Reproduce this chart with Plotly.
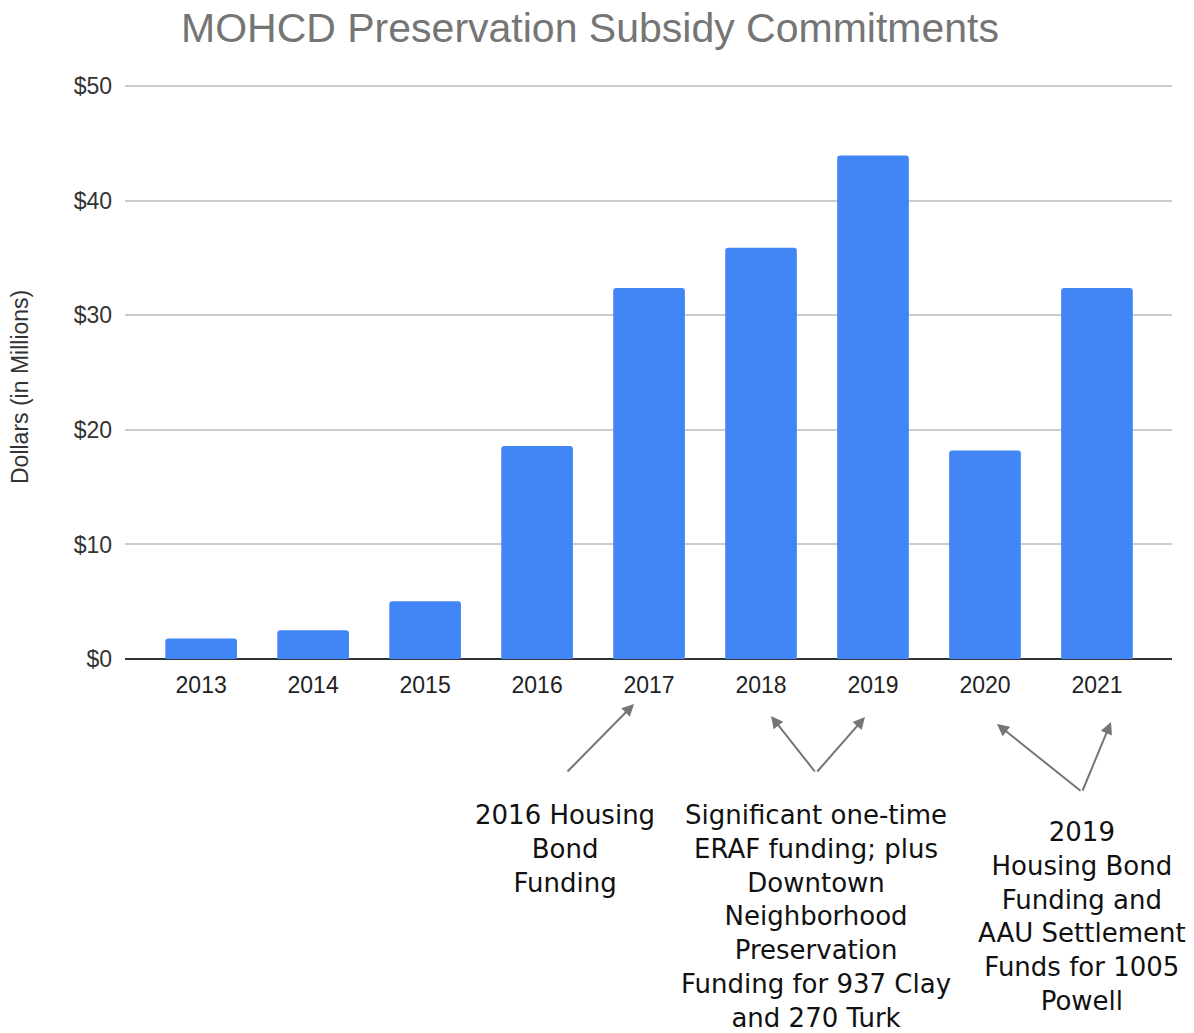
import plotly.graph_objects as go

years = ["2013", "2014", "2015", "2016", "2017", "2018", "2019", "2020", "2021"]
values = [1.8, 2.5, 5.05, 18.6, 32.4, 35.9, 43.95, 18.2, 32.4]
y_ticks = [0, 10, 20, 30, 40, 50]
y_tick_labels = ["$0", "$10", "$20", "$30", "$40", "$50"]
y_title = "Dollars (in Millions)"
chart_title = "MOHCD Preservation Subsidy Commitments"

note_texts = [
    "2016 Housing<br>Bond<br>Funding",
    "Significant one-time<br>ERAF funding; plus<br>Downtown<br>Neighborhood<br>Preservation<br>Funding for 937 Clay<br>and 270 Turk",
    "2019<br>Housing Bond<br>Funding and<br>AAU Settlement<br>Funds for 1005<br>Powell",
]

W, H = 1194, 1033
L, R, T, B = 125, 22, 84, 374
PW = W - L - R
PH = H - T - B


def px(x):
    return (x - L) / PW


def py(y):
    return (H - B - y) / PH


fig = go.Figure(
    go.Bar(x=list(range(len(years))), y=values, marker_color="#4285F4",
           marker_line_width=0, hoverinfo="x+y")
)

fig.update_layout(
    width=W, height=H,
    margin=dict(l=L, r=R, t=T, b=B),
    paper_bgcolor="white", plot_bgcolor="white",
    bargap=0.36,
    barcornerradius=3,
    showlegend=False,
    title=dict(text=chart_title,
               x=590 / W, xanchor="center", y=1 - 28 / H, yanchor="middle",
               font=dict(family="Liberation Sans, Arial", size=41, color="#757575")),
    font=dict(family="Liberation Sans, Arial", size=23, color="#222"),
)

fig.update_xaxes(
    tickmode="array", tickvals=list(range(len(years))), ticktext=years,
    range=[-0.68, 8.67], showgrid=False, showline=False, zeroline=False,
    ticks="", ticklabelstandoff=10, automargin=False,
    tickfont=dict(size=23, color="#222"),
)
fig.update_yaxes(
    range=[0, 50.2], tickvals=y_ticks, ticktext=y_tick_labels,
    showgrid=True, gridcolor="#cccccc", gridwidth=1.5,
    zeroline=True, zerolinecolor="#333333", zerolinewidth=2,
    showline=False, ticks="", ticklabelstandoff=12, automargin=False,
    tickfont=dict(size=23, color="#333"),
)

# y-axis title (placed like the reference, slightly below plot centre)
fig.add_annotation(
    xref="paper", yref="paper", x=px(20), y=py(387),
    xanchor="center", yanchor="middle", textangle=-90,
    text=y_title, showarrow=False,
    font=dict(family="Liberation Sans, Arial", size=23, color="#333"),
)

arrow_color = "#757575"
# arrows: (head_x, head_y, tail_x, tail_y) in pixels
arrows = [
    (634, 704, 566, 773),
    (771, 716, 816, 773),
    (865, 717, 816, 773),
    (997, 724, 1082, 792),
    (1111, 722, 1082, 792),
]
for hx, hy, tx, ty in arrows:
    fig.add_annotation(
        xref="paper", yref="paper", x=px(hx), y=py(hy),
        axref="pixel", ayref="pixel", ax=tx - hx, ay=ty - hy,
        text="", showarrow=True, arrowhead=2, arrowsize=1.2,
        arrowwidth=2, arrowcolor=arrow_color,
    )

note_pos = [(565, 815), (816, 815), (1082, 832)]
for (cx, cy), txt in zip(note_pos, note_texts):
    fig.add_annotation(
        xref="paper", yref="paper", x=px(cx), y=py(cy - 17),
        xanchor="center", yanchor="top", align="center",
        text=txt, showarrow=False,
        font=dict(family="DejaVu Sans", size=26, color="#111"),
    )

fig.write_html("out.html", config={"displayModeBar": False},
               post_script="document.body.style.margin='0';")
